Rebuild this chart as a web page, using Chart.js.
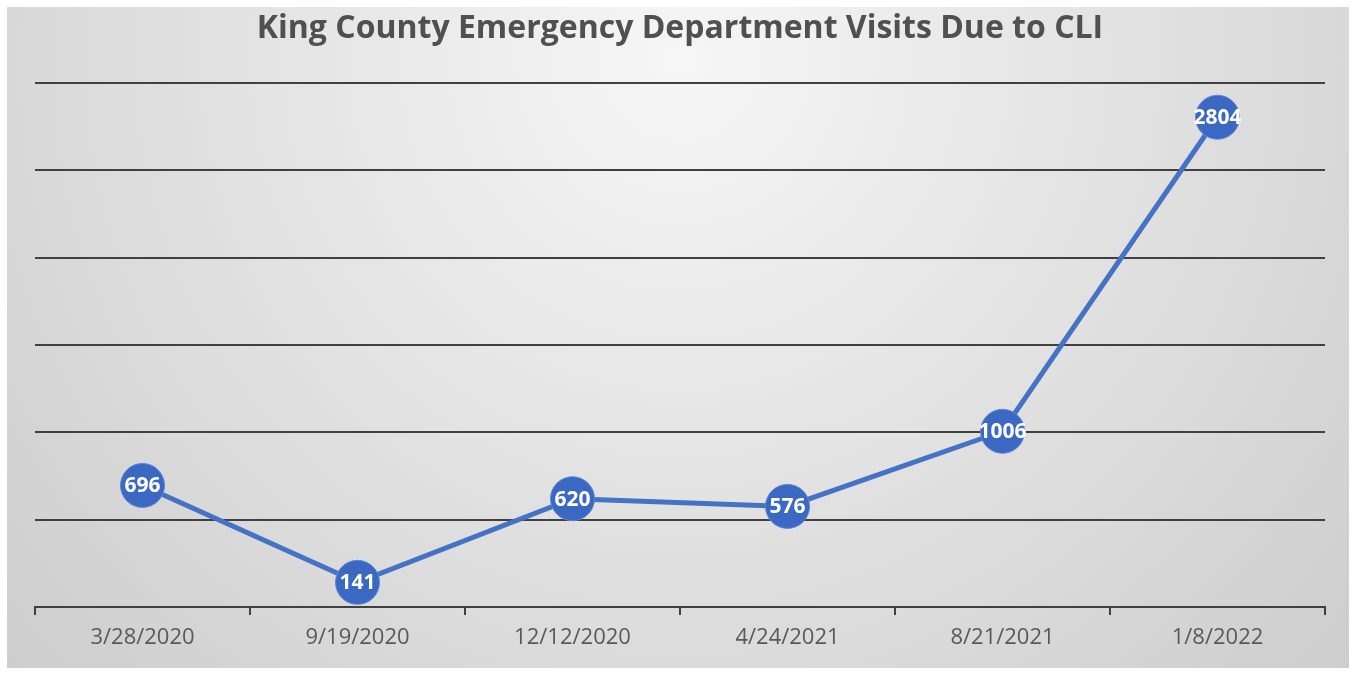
<!DOCTYPE html>
<html>
<head>
<meta charset="utf-8">
<script src="https://cdn.jsdelivr.net/npm/chart.js@4/dist/chart.umd.min.js"></script>
<style>
  html, body { margin: 0; padding: 0; background: #fff; }
  #wrap { width: 1356px; height: 675px; position: relative; }
</style>
</head>
<body>
<div id="wrap"><canvas id="grafico"></canvas></div>
<script>
const datas = ["3/28/2020", "9/19/2020", "12/12/2020", "4/24/2021", "8/21/2021", "1/8/2022"];
const visitas = [696, 141, 620, 576, 1006, 2804];
const titulo = "King County Emergency Department Visits Due to CLI";

// fundo cinza com degradê
const fundo = {
  id: "fundo",
  beforeDraw(chart) {
    const ctx = chart.ctx;
    ctx.save();
    ctx.fillStyle = "#ffffff";
    ctx.fillRect(0, 0, chart.width, chart.height);
    const g = ctx.createRadialGradient(680, 60, 0, 680, 60, 950);
    g.addColorStop(0, "#f6f6f6");
    g.addColorStop(1, "#cbcbcb");
    ctx.fillStyle = g;
    ctx.fillRect(7, 7, chart.width - 14, chart.height - 14);
    ctx.restore();
  }
};

// rótulos brancos dentro dos pontos
const rotulos = {
  id: "rotulos",
  afterDatasetsDraw(chart) {
    const ctx = chart.ctx;
    const meta = chart.getDatasetMeta(0);
    ctx.save();
    ctx.font = "bold 21px 'Open Sans'";
    ctx.fillStyle = "#ffffff";
    ctx.textAlign = "center";
    ctx.textBaseline = "middle";
    meta.data.forEach((pt, i) => {
      ctx.fillText(visitas[i], pt.x, pt.y + 1);
    });
    ctx.restore();
  }
};

const ctx = document.getElementById("grafico").getContext("2d");
let myChart = new Chart(ctx, {
  type: "line",
  data: {
    labels: datas,
    datasets: [
      {
        label: "Visitas",
        data: visitas,
        borderColor: "#4472C4",
        borderWidth: 5,
        backgroundColor: "#3a68c2",
        pointBackgroundColor: "#3a68c2",
        pointBorderColor: "#5d88d4",
        pointBorderWidth: 1,
        pointRadius: 22,
        pointHoverRadius: 22,
        tension: 0,
        clip: false,
      },
    ],
  },
  options: {
    responsive: true,
    maintainAspectRatio: false,
    animation: false,
    devicePixelRatio: 1,
    layout: { padding: { left: 35, right: 31, top: 0, bottom: 0 } },
    plugins: {
      legend: { display: false },
      tooltip: { enabled: false },
      title: {
        display: true,
        text: titulo,
        color: "#505050",
        font: { family: "'Open Sans'", size: 32, weight: "bold", lineHeight: 1.2 },
        padding: { top: 10, bottom: 34.6 },
      },
    },
    scales: {
      x: {
        offset: true,
        grid: {
          offset: true,
          drawOnChartArea: false,
          drawTicks: true,
          tickLength: 8,
          color: "#404040",
          lineWidth: 2,
        },
        border: { display: true, color: "#404040", width: 2 },
        ticks: {
          color: "#595959",
          font: { family: "'Open Sans'", size: 22 },
          padding: 10,
          maxRotation: 0,
        },
        afterFit(scale) { scale.height = 68; },
      },
      y: {
        min: 0,
        max: 3000,
        ticks: { stepSize: 500, display: false },
        grid: { color: "#404040", lineWidth: 2, drawTicks: false },
        border: { display: false },
        afterFit(scale) { scale.width = 0; },
      },
    },
  },
  plugins: [fundo, rotulos],
});
</script>
</body>
</html>
